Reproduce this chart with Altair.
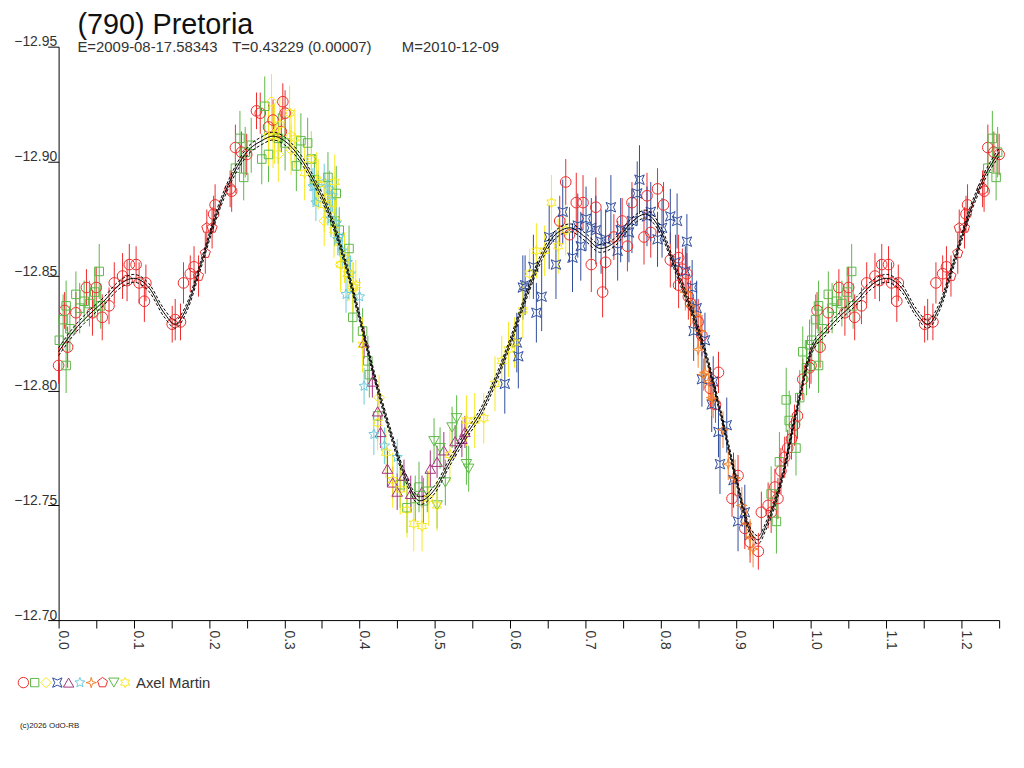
import altair as alt
import pandas as pd

# ---------------- data (phase, reduced magnitude, error) ----------------
names = ["Set 1", "Set 2", "Set 3", "Set 4", "Set 5",
         "Set 6", "Set 7", "Set 8", "Set 9", "Set 10"]
colors = ["#ee2b2b", "#5cb847", "#f7e81c", "#2f4c9c", "#a6327c",
          "#6ccadc", "#f2822e", "#ee2b2b", "#5cb847", "#f7e81c"]

SQUARE = "M-0.8,-0.8L0.8,-0.8L0.8,0.8L-0.8,0.8Z"
HOURGLASS = "M-0.9,-0.9L0,-0.5L0.9,-0.9L0.5,0L0.9,0.9L0,0.5L-0.9,0.9L-0.5,0Z"
STAR5 = ("M0,-1L0.265,-0.364L0.951,-0.309L0.428,0.139L0.588,0.809L0,0.45"
         "L-0.588,0.809L-0.428,0.139L-0.951,-0.309L-0.265,-0.364Z")
STAR4 = "M0,-1L0.22,-0.22L1,0L0.22,0.22L0,1L-0.22,0.22L-1,0L-0.22,-0.22Z"
PENTA = "M0,-1L0.951,-0.309L0.588,0.809L-0.588,0.809L-0.951,-0.309Z"
STAR6 = ("M0,-1L0.275,-0.476L0.866,-0.5L0.55,0L0.866,0.5L0.275,0.476L0,1"
         "L-0.275,0.476L-0.866,0.5L-0.55,0L-0.866,-0.5L-0.275,-0.476Z")
shapes = ["circle", SQUARE, "diamond", HOURGLASS, "triangle-up",
          STAR5, STAR4, PENTA, "triangle-down", STAR6]

s1 = [(0.000, -12.811, 0.008), (0.012, -12.819, 0.009), (0.008, -12.835, 0.008),
      (0.037, -12.845, 0.008), (0.023, -12.834, 0.009), (0.045, -12.834, 0.010),
      (0.050, -12.845, 0.009), (0.058, -12.832, 0.010), (0.067, -12.837, 0.008),
      (0.074, -12.847, 0.009), (0.085, -12.850, 0.010), (0.094, -12.855, 0.009),
      (0.103, -12.855, 0.008), (0.091, -12.848, 0.009), (0.107, -12.847, 0.009),
      (0.116, -12.847, 0.008), (0.114, -12.839, 0.009), (0.151, -12.829, 0.008),
      (0.155, -12.831, 0.009), (0.162, -12.830, 0.008), (0.166, -12.847, 0.009),
      (0.175, -12.851, 0.008), (0.180, -12.854, 0.009), (0.206, -12.877, 0.008),
      (0.208, -12.881, 0.009), (0.230, -12.887, 0.009), (0.228, -12.888, 0.008),
      (0.235, -12.906, 0.010), (0.243, -12.904, 0.009), (0.250, -12.903, 0.009),
      (0.263, -12.922, 0.008), (0.268, -12.921, 0.009), (0.279, -12.915, 0.010),
      (0.285, -12.918, 0.009), (0.298, -12.926, 0.008), (0.301, -12.921, 0.010),
      (0.296, -12.913, 0.009),
      (0.674, -12.891, 0.010), (0.666, -12.874, 0.011), (0.688, -12.882, 0.013),
      (0.697, -12.882, 0.012), (0.679, -12.868, 0.012), (0.708, -12.855, 0.012),
      (0.714, -12.880, 0.013), (0.727, -12.856, 0.012), (0.723, -12.843, 0.011),
      (0.738, -12.867, 0.010), (0.749, -12.874, 0.010), (0.756, -12.863, 0.011),
      (0.762, -12.882, 0.009), (0.778, -12.867, 0.012), (0.782, -12.885, 0.010),
      (0.787, -12.869, 0.011), (0.796, -12.888, 0.009), (0.804, -12.881, 0.010),
      (0.813, -12.857, 0.012), (0.824, -12.858, 0.010), (0.829, -12.853, 0.009),
      (0.824, -12.846, 0.010), (0.835, -12.851, 0.009), (0.837, -12.841, 0.010),
      (0.850, -12.830, 0.010), (0.866, -12.801, 0.009), (0.877, -12.808, 0.009),
      (0.840, -12.838, 0.010), (0.855, -12.824, 0.009), (0.873, -12.794, 0.008),
      (0.903, -12.763, 0.009), (0.895, -12.753, 0.008), (0.912, -12.740, 0.009),
      (0.919, -12.734, 0.009), (0.930, -12.730, 0.008), (0.934, -12.747, 0.009),
      (0.943, -12.750, 0.010), (0.947, -12.747, 0.009), (0.952, -12.758, 0.008),
      (0.956, -12.753, 0.009), (0.960, -12.765, 0.010), (0.965, -12.771, 0.009),
      (0.969, -12.775, 0.008), (0.974, -12.779, 0.009), (0.978, -12.785, 0.009),
      (0.982, -12.789, 0.010), (0.989, -12.805, 0.009), (0.998, -12.810, 0.009)]

s2 = [(0.001, -12.822, 0.010), (0.006, -12.831, 0.011), (0.015, -12.827, 0.010),
      (0.010, -12.837, 0.011), (0.010, -12.811, 0.012), (0.023, -12.842, 0.010),
      (0.028, -12.836, 0.011), (0.034, -12.839, 0.009), (0.041, -12.838, 0.010),
      (0.048, -12.843, 0.011), (0.054, -12.852, 0.012), (0.056, -12.837, 0.010),
      (0.235, -12.897, 0.011), (0.241, -12.910, 0.012), (0.246, -12.893, 0.010),
      (0.248, -12.904, 0.011), (0.256, -12.907, 0.012), (0.270, -12.901, 0.011),
      (0.274, -12.924, 0.013), (0.279, -12.903, 0.012), (0.292, -12.910, 0.011),
      (0.301, -12.908, 0.012), (0.316, -12.898, 0.011), (0.322, -12.909, 0.012),
      (0.331, -12.908, 0.011), (0.336, -12.901, 0.012), (0.340, -12.892, 0.011),
      (0.358, -12.893, 0.011), (0.369, -12.886, 0.012), (0.367, -12.874, 0.011),
      (0.373, -12.870, 0.010), (0.386, -12.862, 0.010), (0.391, -12.832, 0.011),
      (0.404, -12.826, 0.010), (0.411, -12.813, 0.011), (0.413, -12.807, 0.010),
      (0.424, -12.789, 0.011), (0.454, -12.759, 0.010), (0.463, -12.749, 0.011),
      (0.474, -12.753, 0.010), (0.479, -12.758, 0.011), (0.485, -12.752, 0.010),
      (0.954, -12.743, 0.014), (0.947, -12.755, 0.012), (0.958, -12.769, 0.013),
      (0.967, -12.796, 0.014), (0.971, -12.787, 0.013), (0.980, -12.775, 0.012),
      (0.985, -12.797, 0.012), (0.989, -12.817, 0.011), (0.994, -12.810, 0.012),
      (0.998, -12.820, 0.011)]

s3 = [(0.283, -12.926, 0.012), (0.287, -12.912, 0.013), (0.292, -12.903, 0.012),
      (0.309, -12.905, 0.011), (0.309, -12.911, 0.012), (0.353, -12.874, 0.011),
      (0.375, -12.855, 0.012), (0.391, -12.845, 0.011), (0.369, -12.874, 0.011),
      (0.426, -12.797, 0.010)]

s4 = [(0.593, -12.803, 0.013), (0.611, -12.815, 0.014), (0.620, -12.846, 0.013),
      (0.631, -12.854, 0.014), (0.642, -12.841, 0.015), (0.635, -12.834, 0.013),
      (0.652, -12.867, 0.014), (0.661, -12.855, 0.015), (0.670, -12.878, 0.014),
      (0.683, -12.858, 0.015), (0.690, -12.872, 0.014), (0.694, -12.863, 0.015),
      (0.701, -12.875, 0.014), (0.708, -12.871, 0.013), (0.714, -12.870, 0.015),
      (0.721, -12.865, 0.014), (0.727, -12.866, 0.013), (0.734, -12.880, 0.014),
      (0.743, -12.861, 0.013), (0.747, -12.870, 0.014), (0.758, -12.869, 0.013),
      (0.762, -12.874, 0.014), (0.769, -12.886, 0.014), (0.772, -12.892, 0.015),
      (0.782, -12.876, 0.013), (0.787, -12.878, 0.013), (0.796, -12.866, 0.012),
      (0.802, -12.871, 0.013), (0.813, -12.876, 0.012), (0.822, -12.874, 0.012),
      (0.835, -12.865, 0.012), (0.820, -12.856, 0.012), (0.833, -12.852, 0.011),
      (0.842, -12.845, 0.012), (0.844, -12.826, 0.013), (0.848, -12.836, 0.012),
      (0.859, -12.822, 0.012), (0.855, -12.805, 0.012), (0.870, -12.804, 0.011),
      (0.868, -12.794, 0.012), (0.877, -12.782, 0.011), (0.879, -12.768, 0.013),
      (0.888, -12.785, 0.012), (0.897, -12.761, 0.012), (0.903, -12.743, 0.013),
      (0.912, -12.747, 0.012), (0.609, -12.821, 0.013), (0.617, -12.845, 0.014)]

s5 = [(0.406, -12.821, 0.007), (0.417, -12.804, 0.007), (0.424, -12.791, 0.008),
      (0.428, -12.782, 0.007), (0.437, -12.766, 0.008), (0.444, -12.760, 0.007),
      (0.450, -12.756, 0.008), (0.459, -12.763, 0.007), (0.468, -12.755, 0.008),
      (0.483, -12.756, 0.007), (0.494, -12.766, 0.008), (0.503, -12.769, 0.007),
      (0.512, -12.774, 0.008), (0.527, -12.778, 0.007), (0.536, -12.779, 0.008),
      (0.540, -12.782, 0.007)]

s6 = [(0.338, -12.889, 0.008), (0.342, -12.882, 0.008), (0.345, -12.889, 0.007),
      (0.353, -12.891, 0.008), (0.360, -12.888, 0.008), (0.364, -12.885, 0.007),
      (0.358, -12.880, 0.008), (0.362, -12.875, 0.008), (0.369, -12.873, 0.007),
      (0.373, -12.867, 0.008), (0.377, -12.861, 0.008), (0.384, -12.856, 0.007),
      (0.382, -12.842, 0.008), (0.388, -12.851, 0.008), (0.340, -12.889, 0.008),
      (0.371, -12.866, 0.007), (0.380, -12.858, 0.008), (0.400, -12.841, 0.008),
      (0.406, -12.802, 0.008), (0.419, -12.781, 0.009), (0.433, -12.776, 0.008),
      (0.450, -12.771, 0.008)]

s7 = [(0.833, -12.843, 0.008), (0.840, -12.837, 0.008), (0.846, -12.833, 0.007),
      (0.853, -12.826, 0.008), (0.850, -12.818, 0.008), (0.857, -12.807, 0.007),
      (0.864, -12.804, 0.008), (0.868, -12.797, 0.008), (0.859, -12.808, 0.007),
      (0.870, -12.796, 0.008), (0.883, -12.783, 0.008), (0.890, -12.768, 0.007),
      (0.899, -12.762, 0.008), (0.908, -12.750, 0.008), (0.914, -12.742, 0.007),
      (0.919, -12.736, 0.008), (0.923, -12.731, 0.008)]

s8 = [(0.186, -12.850, 0.009), (0.195, -12.860, 0.009), (0.197, -12.871, 0.008),
      (0.204, -12.871, 0.009)]

s9 = [(0.499, -12.778, 0.010), (0.507, -12.775, 0.009), (0.514, -12.760, 0.010),
      (0.523, -12.784, 0.009), (0.529, -12.788, 0.010), (0.542, -12.768, 0.009),
      (0.545, -12.766, 0.010), (0.490, -12.756, 0.009), (0.503, -12.750, 0.010)]

s10 = [(0.279, -12.911, 0.013), (0.285, -12.911, 0.014), (0.294, -12.916, 0.012),
       (0.307, -12.921, 0.012), (0.314, -12.910, 0.013), (0.327, -12.895, 0.012),
       (0.336, -12.901, 0.012), (0.345, -12.890, 0.011), (0.353, -12.881, 0.012),
       (0.362, -12.879, 0.011), (0.366, -12.870, 0.012), (0.380, -12.858, 0.011),
       (0.386, -12.851, 0.012), (0.392, -12.845, 0.011), (0.343, -12.892, 0.012),
       (0.355, -12.884, 0.011), (0.367, -12.891, 0.012), (0.375, -12.855, 0.011),
       (0.384, -12.851, 0.012), (0.395, -12.846, 0.011), (0.404, -12.820, 0.012),
       (0.424, -12.786, 0.012), (0.435, -12.773, 0.011), (0.444, -12.761, 0.012),
       (0.454, -12.757, 0.011), (0.463, -12.748, 0.012), (0.472, -12.742, 0.012),
       (0.483, -12.741, 0.011), (0.492, -12.753, 0.012), (0.503, -12.750, 0.011),
       (0.520, -12.772, 0.012), (0.542, -12.787, 0.011), (0.553, -12.787, 0.012),
       (0.565, -12.788, 0.011), (0.580, -12.803, 0.012), (0.589, -12.813, 0.011),
       (0.598, -12.818, 0.012), (0.606, -12.821, 0.011), (0.617, -12.835, 0.012),
       (0.626, -12.851, 0.011), (0.635, -12.861, 0.012), (0.646, -12.861, 0.011),
       (0.655, -12.882, 0.012), (0.674, -12.870, 0.011), (0.664, -12.863, 0.012)]

curve_phase = [0.00, 0.02, 0.04, 0.06, 0.08, 0.10, 0.12, 0.14, 0.155, 0.17,
               0.19, 0.21, 0.23, 0.25, 0.27, 0.285, 0.30, 0.32, 0.34, 0.36,
               0.38, 0.40, 0.42, 0.44, 0.46, 0.48, 0.50, 0.52, 0.54, 0.56,
               0.58, 0.60, 0.62, 0.64, 0.66, 0.68, 0.70, 0.72, 0.74, 0.76,
               0.78, 0.80, 0.82, 0.84, 0.86, 0.88, 0.90, 0.92, 0.93, 0.94,
               0.96, 0.98, 1.00]
curve_mag = [-12.817, -12.826, -12.833, -12.839, -12.846, -12.849, -12.845, -12.834, -12.829, -12.836,
             -12.856, -12.877, -12.893, -12.904, -12.909, -12.911, -12.909, -12.902, -12.891, -12.877,
             -12.857, -12.832, -12.806, -12.783, -12.763, -12.752, -12.757, -12.769, -12.780, -12.790,
             -12.804, -12.821, -12.840, -12.857, -12.868, -12.871, -12.867, -12.862, -12.865, -12.873,
             -12.877, -12.870, -12.853, -12.836, -12.816, -12.790, -12.762, -12.738, -12.735, -12.741,
             -12.760, -12.790, -12.817]
band_offset = 0.0017

x_ticks = [0.0, 0.05, 0.1, 0.15, 0.2, 0.25, 0.3, 0.35, 0.4, 0.45, 0.5, 0.55, 0.6,
           0.65, 0.7, 0.75, 0.8, 0.85, 0.9, 0.95, 1.0, 1.05, 1.1, 1.15, 1.2, 1.25]
y_ticks = [-12.95, -12.90, -12.85, -12.80, -12.75, -12.70]

title_text = "(790) Pretoria"
subtitle_parts = ["E=2009-08-17.58343", "T=0.43229 (0.00007)", "M=2010-12-09"]
subtitle_x = [19, 175, 346]
observer = "Axel Martin"
copyright_text = "(c)2026 OdO-RB"

# ---------------- tables ----------------
rows = []
for idx, (name, pts) in enumerate(zip(names, [s1, s2, s3, s4, s5, s6, s7, s8, s9, s10])):
    for ph, m, e in pts:
        rows.append({"series": name, "col": colors[idx], "order": idx,
                     "phase": ph, "mag": m, "err": e})
        if ph + 1.0 <= 1.25:  # phase wrap shown beyond 1.0
            rows.append({"series": name, "col": colors[idx], "order": idx,
                         "phase": ph + 1.0, "mag": m, "err": e})
pts_df = pd.DataFrame(rows).sort_values("order", kind="stable")

crow = [{"phase": p, "mag": m} for p, m in zip(curve_phase, curve_mag)]
crow += [{"phase": p + 1.0, "mag": m} for p, m in zip(curve_phase, curve_mag)
         if 0 < p and p + 1.0 <= 1.25]
curve_df = pd.DataFrame(crow).sort_values("phase")

sub_df = pd.DataFrame({"t": subtitle_parts, "px": subtitle_x})
legend_df = pd.DataFrame({"series": names, "slot": list(range(len(names)))})

FONT = "Liberation Sans"

xscale = alt.Scale(domain=[0, 1.25], nice=False, zero=False)
yscale = alt.Scale(domain=[-12.95, -12.70], reverse=True, nice=False, zero=False)
cscale = alt.Scale(domain=names, range=colors)
sscale = alt.Scale(domain=names, range=shapes)

xaxis = alt.Axis(values=x_ticks, title=None, grid=False, domainColor="black",
                 tickColor="black", tickSize=8, labelAngle=90, labelAlign="left",
                 labelBaseline="alphabetic", labelPadding=2, labelFont=FONT,
                 labelFontSize=14, labelColor="#333333", labelFlush=False,
                 labelOverlap=False,
                 labelExpr="(round(datum.value*100) % 10 == 0) ? format(datum.value, '.1f') : ''")
yaxis = alt.Axis(values=y_ticks, format=".2f", title=None, grid=False,
                 domainColor="black", tickColor="black", tickSize=11,
                 labelAlign="right", labelBaseline="alphabetic", labelPadding=-9,
                 labelOffset=-1, labelFont=FONT, labelFontSize=14,
                 labelColor="#333333", labelFlush=False, labelOverlap=False)

X = alt.X("phase:Q", scale=xscale, axis=xaxis)
Y = alt.Y("mag:Q", scale=yscale, axis=yaxis)
C = alt.Color("series:N", scale=cscale, legend=None)
S = alt.Shape("series:N", scale=sscale, legend=None)

base = alt.Chart(pts_df)
bars = base.transform_calculate(lo="datum.mag - datum.err", hi="datum.mag + datum.err").mark_rule(
    strokeWidth=1).encode(
    x=X, y=alt.Y("lo:Q", scale=yscale, axis=yaxis), y2="hi:Q",
    color=alt.Color("col:N", scale=None))
points = base.mark_point(filled=False, size=115, strokeWidth=1, opacity=1).encode(
    x=X, y=Y, color=C, shape=S)

cbase = alt.Chart(curve_df)
fit = cbase.mark_line(color="black", strokeWidth=1, interpolate="monotone").encode(x=X, y=Y)
upper = cbase.transform_calculate(m2=f"datum.mag - {band_offset}").mark_line(
    color="black", strokeWidth=1, strokeDash=[3, 2], interpolate="monotone").encode(
    x=X, y=alt.Y("m2:Q", scale=yscale, axis=yaxis))
lower = cbase.transform_calculate(m2=f"datum.mag + {band_offset}").mark_line(
    color="black", strokeWidth=1, strokeDash=[3, 2], interpolate="monotone").encode(
    x=X, y=alt.Y("m2:Q", scale=yscale, axis=yaxis))

# legend: one symbol per observing set in a row, then the observer's name
legend_syms = alt.Chart(legend_df).transform_calculate(
    lx="-35.5 + datum.slot * 11.4").mark_point(
    filled=False, size=110, strokeWidth=1, opacity=1).encode(
    x=alt.X("lx:Q", scale=None), y=alt.value(641), color=C, shape=S)
legend_text = alt.Chart(pd.DataFrame({"t": [observer]})).mark_text(
    font=FONT, fontSize=15, align="left", baseline="middle", color="#333333").encode(
    x=alt.value(78), y=alt.value(641), text="t:N")

title_mark = alt.Chart(pd.DataFrame({"t": [title_text]})).mark_text(
    font=FONT, fontSize=29, align="left", baseline="alphabetic", color="#111111").encode(
    x=alt.value(19), y=alt.value(-13), text="t:N")
subtitle_mark = alt.Chart(sub_df).mark_text(
    font=FONT, fontSize=15, align="left", baseline="alphabetic", color="#333333").encode(
    x=alt.X("px:Q", scale=None), y=alt.value(5), text="t:N")
copy_mark = alt.Chart(pd.DataFrame({"t": [copyright_text]})).mark_text(
    font=FONT, fontSize=8, align="left", baseline="middle", color="#222222").encode(
    x=alt.value(-39), y=alt.value(685), text="t:N")

chart = alt.layer(bars, points, fit, upper, lower, legend_syms, legend_text,
                  title_mark, subtitle_mark, copy_mark).properties(
    width=948, height=578,
    autosize=alt.AutoSizeParams(type="none"),
    padding={"left": 51, "top": 36, "right": 17, "bottom": 130},
    background="white",
).configure_view(stroke=None)

chart.save("out.html", embed_options={"renderer": "svg", "actions": False})
